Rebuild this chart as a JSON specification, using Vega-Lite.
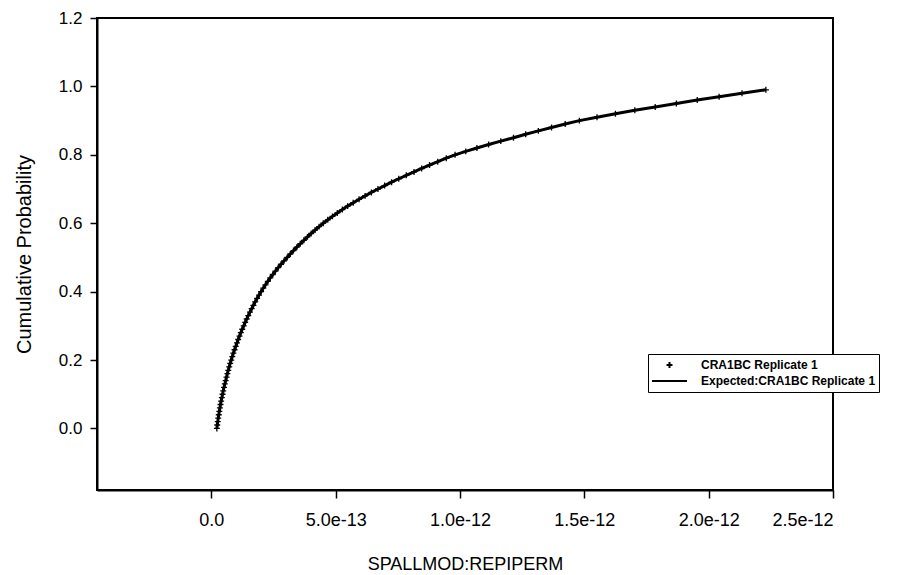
{
  "$schema": "https://vega.github.io/schema/vega-lite/v6.json",
  "width": 736,
  "height": 472,
  "autosize": {"type": "none"},
  "padding": {"left": 97, "top": 18, "right": 76, "bottom": 85},
  "background": "white",
  "config": {
    "view": {"stroke": "black", "strokeWidth": 2},
    "axis": {
      "grid": false,
      "domainColor": "black",
      "domainWidth": 2,
      "tickColor": "black",
      "tickWidth": 1.5,
      "labelFont": "Liberation Sans",
      "labelColor": "black",
      "titleFont": "Liberation Sans",
      "titleFontWeight": "normal",
      "titleColor": "black"
    }
  },
  "data": {
    "values": [
      {"x": 0.0220e-12, "p": 0.00}, {"x": 0.0237e-12, "p": 0.01}, {"x": 0.0256e-12, "p": 0.02}, {"x": 0.0276e-12, "p": 0.03}, {"x": 0.0297e-12, "p": 0.04},
      {"x": 0.0320e-12, "p": 0.05}, {"x": 0.0343e-12, "p": 0.06}, {"x": 0.0367e-12, "p": 0.07}, {"x": 0.0393e-12, "p": 0.08}, {"x": 0.0420e-12, "p": 0.09},
      {"x": 0.0450e-12, "p": 0.10}, {"x": 0.0478e-12, "p": 0.11}, {"x": 0.0508e-12, "p": 0.12}, {"x": 0.0540e-12, "p": 0.13}, {"x": 0.0574e-12, "p": 0.14},
      {"x": 0.0610e-12, "p": 0.15}, {"x": 0.0644e-12, "p": 0.16}, {"x": 0.0680e-12, "p": 0.17}, {"x": 0.0718e-12, "p": 0.18}, {"x": 0.0758e-12, "p": 0.19},
      {"x": 0.0800e-12, "p": 0.20}, {"x": 0.0841e-12, "p": 0.21}, {"x": 0.0885e-12, "p": 0.22}, {"x": 0.0931e-12, "p": 0.23}, {"x": 0.0979e-12, "p": 0.24},
      {"x": 0.1030e-12, "p": 0.25}, {"x": 0.1079e-12, "p": 0.26}, {"x": 0.1131e-12, "p": 0.27}, {"x": 0.1185e-12, "p": 0.28}, {"x": 0.1241e-12, "p": 0.29},
      {"x": 0.1300e-12, "p": 0.30}, {"x": 0.1359e-12, "p": 0.31}, {"x": 0.1420e-12, "p": 0.32}, {"x": 0.1484e-12, "p": 0.33}, {"x": 0.1551e-12, "p": 0.34},
      {"x": 0.1620e-12, "p": 0.35}, {"x": 0.1690e-12, "p": 0.36}, {"x": 0.1762e-12, "p": 0.37}, {"x": 0.1838e-12, "p": 0.38}, {"x": 0.1917e-12, "p": 0.39},
      {"x": 0.2000e-12, "p": 0.40}, {"x": 0.2086e-12, "p": 0.41}, {"x": 0.2176e-12, "p": 0.42}, {"x": 0.2270e-12, "p": 0.43}, {"x": 0.2368e-12, "p": 0.44},
      {"x": 0.2470e-12, "p": 0.45}, {"x": 0.2576e-12, "p": 0.46}, {"x": 0.2687e-12, "p": 0.47}, {"x": 0.2803e-12, "p": 0.48}, {"x": 0.2923e-12, "p": 0.49},
      {"x": 0.3050e-12, "p": 0.50}, {"x": 0.3174e-12, "p": 0.51}, {"x": 0.3302e-12, "p": 0.52}, {"x": 0.3436e-12, "p": 0.53}, {"x": 0.3575e-12, "p": 0.54},
      {"x": 0.3720e-12, "p": 0.55}, {"x": 0.3864e-12, "p": 0.56}, {"x": 0.4014e-12, "p": 0.57}, {"x": 0.4170e-12, "p": 0.58}, {"x": 0.4332e-12, "p": 0.59},
      {"x": 0.4500e-12, "p": 0.60}, {"x": 0.4681e-12, "p": 0.61}, {"x": 0.4869e-12, "p": 0.62}, {"x": 0.5065e-12, "p": 0.63}, {"x": 0.5268e-12, "p": 0.64},
      {"x": 0.5480e-12, "p": 0.65}, {"x": 0.5705e-12, "p": 0.66}, {"x": 0.5939e-12, "p": 0.67}, {"x": 0.6182e-12, "p": 0.68}, {"x": 0.6436e-12, "p": 0.69},
      {"x": 0.6700e-12, "p": 0.70}, {"x": 0.6968e-12, "p": 0.71}, {"x": 0.7247e-12, "p": 0.72}, {"x": 0.7537e-12, "p": 0.73}, {"x": 0.7838e-12, "p": 0.74},
      {"x": 0.8150e-12, "p": 0.75}, {"x": 0.8456e-12, "p": 0.76}, {"x": 0.8774e-12, "p": 0.77}, {"x": 0.9104e-12, "p": 0.78}, {"x": 0.9446e-12, "p": 0.79},
      {"x": 0.9800e-12, "p": 0.80}, {"x": 1.023e-12, "p": 0.81}, {"x": 1.068e-12, "p": 0.82}, {"x": 1.115e-12, "p": 0.83}, {"x": 1.164e-12, "p": 0.84},
      {"x": 1.215e-12, "p": 0.85}, {"x": 1.264e-12, "p": 0.86}, {"x": 1.315e-12, "p": 0.87}, {"x": 1.368e-12, "p": 0.88}, {"x": 1.423e-12, "p": 0.89},
      {"x": 1.480e-12, "p": 0.90}, {"x": 1.551e-12, "p": 0.91}, {"x": 1.625e-12, "p": 0.92}, {"x": 1.703e-12, "p": 0.93}, {"x": 1.785e-12, "p": 0.94},
      {"x": 1.870e-12, "p": 0.95}, {"x": 1.954e-12, "p": 0.96}, {"x": 2.042e-12, "p": 0.97}, {"x": 2.134e-12, "p": 0.98}, {"x": 2.230e-12, "p": 0.99}
    ]
  },
  "encoding": {
    "x": {
      "field": "x",
      "type": "quantitative",
      "scale": {"domain": [-4.6e-13, 2.5e-12], "nice": false, "zero": false},
      "axis": {
        "values": [0, 5e-13, 1e-12, 1.5e-12, 2e-12, 2.5e-12],
        "labelExpr": "datum.value == 0 ? '0.0' : format(datum.value, '.1e')",
        "title": "SPALLMOD:REPIPERM",
        "tickSize": 8,
        "labelFontSize": 18,
        "labelPadding": 13,
        "titleFontSize": 18,
        "titlePadding": 26
      }
    },
    "y": {
      "field": "p",
      "type": "quantitative",
      "scale": {"domain": [-0.18, 1.2], "nice": false, "zero": false},
      "axis": {
        "values": [0, 0.2, 0.4, 0.6, 0.8, 1.0, 1.2],
        "format": ".1f",
        "title": "Cumulative Probability",
        "tickSize": 7,
        "labelFontSize": 17,
        "labelPadding": 8,
        "titleFontSize": 20,
        "titlePadding": 24
      }
    }
  },
  "layer": [
    {
      "mark": {"type": "line", "color": "black", "strokeWidth": 3}
    },
    {
      "mark": {"type": "point", "filled": false, "stroke": "black", "strokeWidth": 1.3, "size": 1225, "opacity": 1},
      "encoding": {
        "shape": {
          "datum": "CRA1BC Replicate 1",
          "scale": {
            "domain": ["CRA1BC Replicate 1", "Expected:CRA1BC Replicate 1"],
            "range": ["M-0.17,0H0.17M0,-0.17V0.17", "M-1,0H1"]
          },
          "legend": {
            "orient": "none",
            "legendX": 551,
            "legendY": 336,
            "title": null,
            "strokeColor": "black",
            "fillColor": "white",
            "padding": 3,
            "symbolSize": 1225,
            "clipHeight": 16,
            "symbolStrokeColor": "black",
            "symbolFillColor": "transparent",
            "symbolStrokeWidth": 2,
            "labelFont": "Liberation Sans",
            "labelFontWeight": "bold",
            "labelFontSize": 12,
            "labelColor": "black",
            "labelOffset": 13,
            "labelLimit": 400,
            "rowPadding": 0
          }
        }
      }
    }
  ]
}
